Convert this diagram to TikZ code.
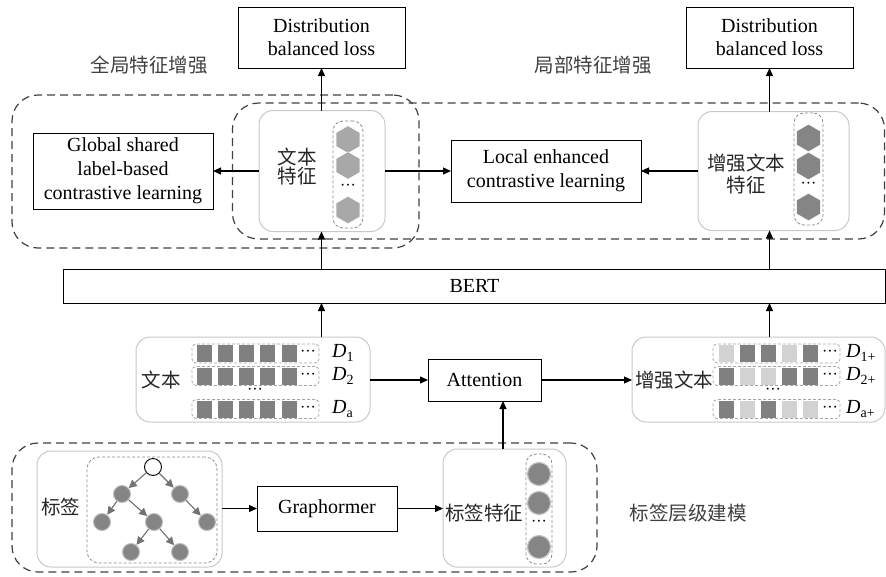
\documentclass[tikz,border=0pt]{standalone}
\usepackage{fontspec}
\setmainfont{Liberation Serif}
\newfontfamily\cjk{Noto Sans CJK SC}
\usetikzlibrary{arrows.meta,shapes.geometric,calc}
\definecolor{sqdark}{HTML}{808080}
\definecolor{sqlight}{HTML}{D2D2D2}
\definecolor{hexl}{HTML}{A8A8A8}
\definecolor{hexd}{HTML}{858585}
\definecolor{gline}{HTML}{C8C8C8}
\begin{document}
\begin{tikzpicture}[x=1pt,y=-1pt,
  lat/.style={font=\fontsize{20}{24}\selectfont},
  zh/.style={font=\cjk\fontsize{19.5}{21}\selectfont, text=black!85},
  box/.style={draw, line width=1pt, inner sep=0pt, outer sep=0pt, align=center, lat},
  gbox/.style={draw=gline, line width=1pt, rounded corners=14pt, inner sep=0pt, outer sep=0pt},
  region/.style={draw=black!75, dash pattern=on 8pt off 5pt, line width=1.2pt, rounded corners=26pt, inner sep=0pt},
  colbox/.style={draw=black!45, dash pattern=on 3pt off 2pt, line width=0.8pt, rounded corners=10pt, inner sep=0pt},
  rowbox/.style={draw=black!35, dash pattern=on 3pt off 2pt, line width=0.8pt, rounded corners=4pt, inner sep=0pt, minimum width=127pt, minimum height=19pt},
  sq/.style={fill=sqdark, inner sep=0pt, minimum width=15pt, minimum height=17pt},
  lsq/.style={fill=sqlight, inner sep=0pt, minimum width=15pt, minimum height=17pt},
  hexn/.style={regular polygon, regular polygon sides=6, rotate=90, inner sep=0pt, minimum size=27.5pt, draw=white, line width=0.5pt},
  cnode/.style={circle, fill=hexd, draw=black!25, line width=1.2pt, inner sep=0pt, minimum size=23pt},
  tnode/.style={circle, fill=hexd, draw=black!25, line width=1pt, inner sep=0pt, minimum size=17pt},
  arr/.style={-{Triangle[length=8pt,width=7pt]}, line width=1.1pt, black},
  tarr/.style={-{Triangle[length=8pt,width=8pt]}, line width=1.1pt, draw=black!55, fill=black!55},
  dots/.style={font=\fontsize{16}{16}\selectfont, inner sep=0pt},
  dlab/.style={font=\fontsize{20}{20}\selectfont, inner sep=0pt, anchor=west}
]
\useasboundingbox (0,0) rectangle (886,576);

% dashed regions
\node[region, minimum width=407pt, minimum height=153pt] (G) at (215.5,171.5) {};
\node[region, minimum width=652pt, minimum height=136pt] (L) at (558.5,171) {};
\node[region, minimum width=585pt, minimum height=129pt] (H) at (304.5,507.5) {};

% region titles
\node[zh, text=black!75] (tG) at (149,65) {全局特征增强};
\node[zh, text=black!75] (tL) at (593,65) {局部特征增强};
\node[zh, text=black!75] (tH) at (688,513) {标签层级建模};

% top boxes
\node[box, minimum width=167pt, minimum height=61pt, font=\fontsize{20}{23}\selectfont] (distL) at (321.5,37.5) {Distribution\\balanced loss};
\node[box, minimum width=167pt, minimum height=61pt, font=\fontsize{20}{23}\selectfont] (distR) at (769.5,37.5) {Distribution\\balanced loss};
\node[box, minimum width=180pt, minimum height=76pt] (glob) at (123,171) {Global shared\\label-based\\contrastive learning};
\node[box, minimum width=190pt, minimum height=62pt] (local) at (546,171) {Local enhanced\\contrastive learning};

% text feature box
\node[gbox, minimum width=126pt, minimum height=121pt] (tf) at (322,171) {};
\node[zh, align=center, font=\cjk\fontsize{19.5}{19}\selectfont] (tft) at (297,167) {文本\\特征};
\node[colbox, minimum width=30pt, minimum height=107pt] (tfc) at (348,174.5) {};
\node[hexn, fill=hexl] (h1) at (348,139.5) {};
\node[hexn, fill=hexl] (h2) at (348,165.5) {};
\node[dots] (hd) at (348,187) {···};
\node[hexn, fill=hexl] (h3) at (348,210) {};

% enhanced text feature box
\node[gbox, minimum width=151pt, minimum height=119pt] (etf) at (773.5,171) {};
\node[zh, align=center, font=\cjk\fontsize{19.5}{22}\selectfont] (etft) at (746,174) {增强文本\\特征};
\node[colbox, minimum width=29pt, minimum height=112pt] (etfc) at (808.5,169) {};
\node[hexn, fill=hexd] (g1) at (808.5,138) {};
\node[hexn, fill=hexd] (g2) at (808.5,166) {};
\node[dots] (gd) at (808.5,185) {···};
\node[hexn, fill=hexd] (g3) at (808.5,207) {};

% BERT
\node[box, minimum width=822pt, minimum height=34pt] (bert) at (474.5,286) {BERT};

% text box
\node[gbox, minimum width=234pt, minimum height=85pt] (txt) at (253,379.5) {};
\node[zh] (txtt) at (161,380) {文本};
\node[rowbox] (r1) at (255.5,353.5) {};
\node[rowbox] (r2) at (255.5,376) {};
\node[rowbox] (r3) at (255.5,409) {};
\foreach \r/\yy in {1/353.5,2/376,3/409}{
  \foreach \i/\xx in {1/204.5,2/225.5,3/246.5,4/267.5,5/289}{
    \node[sq] (s\r\i) at (\xx,\yy) {};
  }
  \node[dots] (sd\r) at (308,\yy) {···};
}
\node[dots] (smid) at (255,391) {···};
\node[dlab] (d1) at (332,353) {\itshape D\upshape\textsubscript{1}};
\node[dlab] (d2) at (332,376) {\itshape D\upshape\textsubscript{2}};
\node[dlab] (d3) at (332,409) {\itshape D\upshape\textsubscript{a}};

% attention
\node[box, minimum width=113pt, minimum height=42pt] (attn) at (484.5,380) {Attention};

% enhanced text box
\node[gbox, minimum width=253pt, minimum height=85pt] (etxt) at (758.5,379.5) {};
\node[zh] (etxtt) at (674,380) {增强文本};
\node[rowbox] (e1) at (776.5,353.5) {};
\node[rowbox] (e2) at (776.5,376) {};
\node[rowbox] (e3) at (776.5,409) {};
\foreach \r/\yy/\ca/\cb/\cc/\cd/\ce in {1/353.5/lsq/sq/sq/lsq/sq, 2/376/sq/lsq/lsq/sq/sq, 3/409/sq/lsq/sq/lsq/lsq}{
  \node[\ca] (t\r1) at (726.5,\yy) {};
  \node[\cb] (t\r2) at (747.5,\yy) {};
  \node[\cc] (t\r3) at (768.5,\yy) {};
  \node[\cd] (t\r4) at (789.5,\yy) {};
  \node[\ce] (t\r5) at (810.5,\yy) {};
  \node[dots] (td\r) at (830,\yy) {···};
}
\node[dots] (tmid) at (773,391) {···};
\node[dlab] (f1) at (846,353) {\itshape D\upshape\textsubscript{1+}};
\node[dlab] (f2) at (846,376) {\itshape D\upshape\textsubscript{2+}};
\node[dlab] (f3) at (846,409) {\itshape D\upshape\textsubscript{a+}};

% label box with tree
\node[gbox, minimum width=185pt, minimum height=116pt] (lab) at (129.5,509) {};
\node[zh] (labt) at (61,507) {标签};
\node[colbox, dash pattern=on 3pt off 2pt, rounded corners=12pt, minimum width=130pt, minimum height=106pt] (tree) at (152,510) {};
\node[tnode, fill=white, draw=black, line width=0.9pt] (n0) at (153,467) {};
\node[tnode] (n1) at (122,494) {};
\node[tnode] (n2) at (180,494) {};
\node[tnode] (n3) at (102,522) {};
\node[tnode] (n4) at (154,522) {};
\node[tnode] (n5) at (207,522) {};
\node[tnode] (n6) at (131,552) {};
\node[tnode] (n7) at (180,552) {};
\draw[tarr] (n0) -- (n1);
\draw[tarr] (n0) -- (n2);
\draw[tarr] (n1) -- (n3);
\draw[tarr] (n1) -- (n4);
\draw[tarr] (n2) -- (n5);
\draw[tarr] (n4) -- (n6);
\draw[tarr] (n4) -- (n7);

% graphormer
\node[box, minimum width=140pt, minimum height=45pt] (graph) at (327,508.5) {Graphormer};

% label feature box
\node[gbox, minimum width=123pt, minimum height=118pt] (labf) at (504.5,508) {};
\node[zh] (labft) at (484,513) {标签特征};
\node[colbox, minimum width=26pt, minimum height=110pt] (labc) at (539,509) {};
\node[cnode] (c1) at (539,474) {};
\node[cnode] (c2) at (539,503) {};
\node[dots] (cd) at (539,523) {···};
\node[cnode] (c3) at (539,547) {};

% connectors
\draw[arr] (tf.north -| distL.south) -- (distL.south);
\draw[arr] (etf.north -| distR.south) -- (distR.south);
\draw[arr] (tf.west) -- (glob.east);
\draw[arr] (tf.east) -- (local.west);
\draw[arr] (etf.west) -- (local.east);
\draw[arr] (bert.north -| distL.south) -- (tf.south -| distL.south);
\draw[arr] (bert.north -| distR.south) -- (etf.south -| distR.south);
\draw[arr] (txt.north -| distL.south) -- (bert.south -| distL.south);
\draw[arr] (etxt.north -| distR.south) -- (bert.south -| distR.south);
\draw[arr] (txt.east |- attn.west) -- (attn.west);
\draw[arr] (attn.east) -- (etxt.west |- attn.east);
\draw[arr] (labf.north -| 503,0) -- (attn.south -| 503,0);
\draw[arr] (lab.east |- graph.west) -- (graph.west);
\draw[arr] (graph.east) -- (labf.west |- graph.east);
\end{tikzpicture}
\end{document}
